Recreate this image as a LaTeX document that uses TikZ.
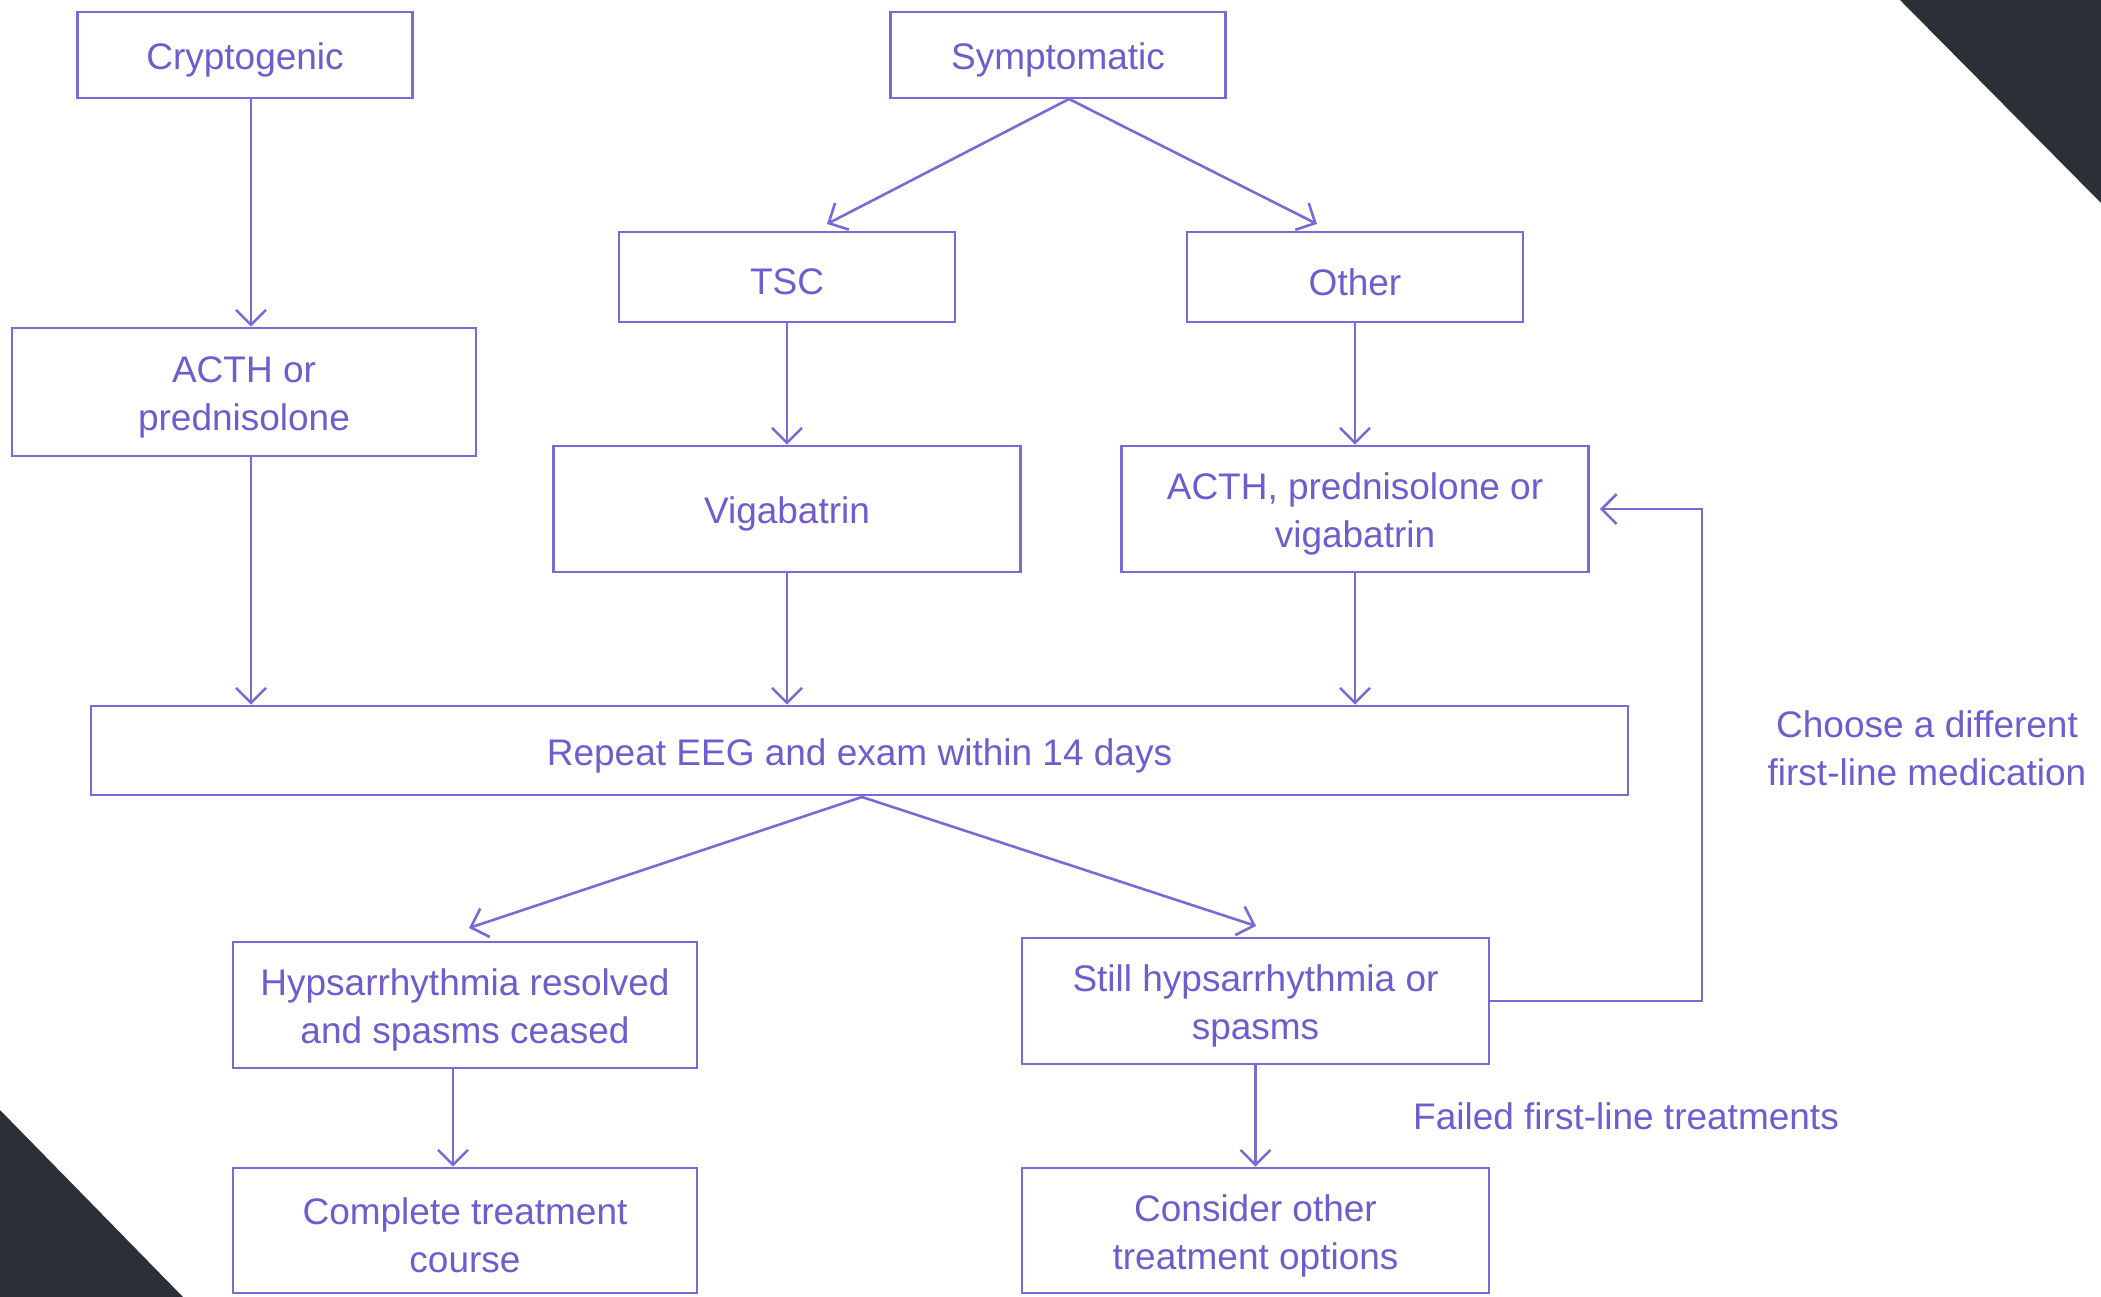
\documentclass[tikz,border=0pt]{standalone}
\usepackage{fontspec}
\setmainfont{Liberation Sans}
\usetikzlibrary{arrows.meta}
\definecolor{lc}{RGB}{122,106,214}
\definecolor{tc}{RGB}{112,92,206}
\definecolor{dark}{RGB}{43,48,56}
\tikzset{
  box/.style={draw=lc, line width=2.6pt, rectangle, inner sep=0pt},
  lbl/.style={text=tc, align=center, inner sep=0pt, font=\fontsize{37}{48}\selectfont},
  txt/.style={lbl, yshift=-5pt},
  arr/.style={draw=lc, line width=2.6pt, -{Straight Barb[length=15pt,width=30pt]}},
  ln/.style={draw=lc, line width=2.6pt}
}
\begin{document}
\begin{tikzpicture}[x=1pt,y=-1pt]
\useasboundingbox (0,0) rectangle (2101,1297);
\fill[white] (0,0) rectangle (2101,1297);
\fill[dark] (1900,0) -- (2101,0) -- (2101,203) -- cycle;
\fill[dark] (0,1110) -- (0,1297) -- (183,1297) -- cycle;

\node[box, minimum width=335pt, minimum height=86pt, label={[txt]center:Cryptogenic}] (cryp) at (245,55) {};
\node[box, minimum width=335pt, minimum height=86pt, label={[txt]center:Symptomatic}] (symp) at (1058,55) {};
\node[box, minimum width=336pt, minimum height=90pt, label={[txt]center:TSC}] (tsc) at (787,277) {};
\node[box, minimum width=336pt, minimum height=90pt, label={[txt]center:Other}] (other) at (1355,277) {};
\node[box, minimum width=464pt, minimum height=128pt, label={[txt]center:{ACTH or\\prednisolone}}] (acthp) at (244,392) {};
\node[box, minimum width=467pt, minimum height=126pt, label={[txt]center:Vigabatrin}] (vig) at (787,509) {};
\node[box, minimum width=467pt, minimum height=126pt, label={[txt]center:{ACTH, prednisolone or\\vigabatrin}}] (acthpv) at (1355,509) {};
\node[box, minimum width=1537pt, minimum height=89pt, label={[txt]center:Repeat EEG and exam within 14 days}] (rep) at (859.5,750.5) {};
\node[box, minimum width=464pt, minimum height=126pt, label={[txt]center:{Hypsarrhythmia resolved\\and spasms ceased}}] (hyp) at (465,1005) {};
\node[box, minimum width=467pt, minimum height=126pt, label={[txt]center:{Still hypsarrhythmia or\\spasms}}] (still) at (1255.5,1001) {};
\node[box, minimum width=464pt, minimum height=125pt, label={[txt]center:{Complete treatment\\course}}] (comp) at (465,1230.5) {};
\node[box, minimum width=467pt, minimum height=125pt, label={[txt]center:{Consider other\\treatment options}}] (cons) at (1255.5,1230.5) {};

\node[lbl] (choose) at (1927,748) {Choose a different\\first-line medication};
\node[lbl] (failed) at (1626,1116) {Failed first-line treatments};

\coordinate (sBot) at (1069,99);
\coordinate (sTSC) at (827,224);
\coordinate (sOth) at (1317,224);
\coordinate (rTop) at (862,797);
\coordinate (rHyp) at (469,928);
\coordinate (rStill) at (1256,926);
\coordinate (fb) at (1702,509);

\draw[arr] ([xshift=6pt]cryp.south) -- ([xshift=7pt]acthp.north);
\draw[arr] (sBot) -- (sTSC);
\draw[arr] (sBot) -- (sOth);
\draw[arr] (tsc.south) -- (vig.north);
\draw[arr] (other.south) -- (acthpv.north);
\draw[arr] ([xshift=7pt]acthp.south) -- ([xshift=7pt]acthp.south |- rep.north);
\draw[arr] (vig.south) -- (vig.south |- rep.north);
\draw[arr] (acthpv.south) -- (acthpv.south |- rep.north);
\draw[arr] (rTop) -- (rHyp);
\draw[arr] (rTop) -- (rStill);
\draw[arr] ([xshift=-12pt]hyp.south) -- ([xshift=-12pt]comp.north);
\draw[arr] (still.south) -- (cons.north);
\draw[arr] (still.east) -| (fb) -- ([xshift=10pt]acthpv.east);
\end{tikzpicture}
\end{document}
